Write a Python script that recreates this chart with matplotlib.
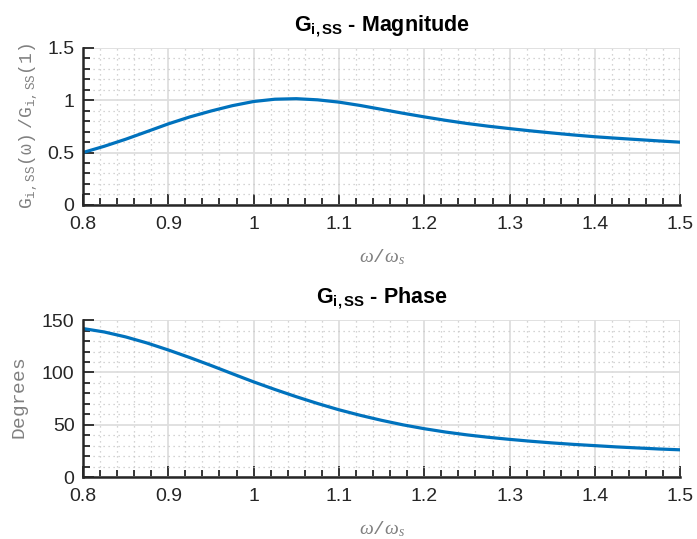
import matplotlib
matplotlib.use("Agg")
import matplotlib.pyplot as plt
from matplotlib.ticker import MultipleLocator

# frequency ratio w/ws
w = [0.800, 0.825, 0.850, 0.875, 0.900, 0.925, 0.950, 0.975, 1.000, 1.025,
     1.050, 1.075, 1.100, 1.125, 1.150, 1.175, 1.200, 1.225, 1.250, 1.275,
     1.300, 1.325, 1.350, 1.375, 1.400, 1.425, 1.450, 1.475, 1.500]
# normalised magnitude
mag = [0.50, 0.56, 0.627, 0.70, 0.774, 0.84, 0.897, 0.948, 0.988, 1.01,
       1.015, 1.004, 0.982, 0.95, 0.913, 0.876, 0.841, 0.808, 0.778, 0.752,
       0.729, 0.707, 0.687, 0.668, 0.651, 0.637, 0.624, 0.611, 0.599]
# phase, degrees
phase = [142, 138.7, 134.0, 128.2, 121.5, 114.3, 106.7, 98.8, 91, 83.7,
         76.8, 70.3, 64.3, 59, 54.2, 49.9, 46.2, 43, 40.3, 38,
         36, 34.2, 32.6, 31.2, 30, 28.8, 27.8, 26.8, 26]

plt.rcParams['font.family'] = ['Liberation Sans', 'DejaVu Sans']
plt.rcParams['mathtext.fontset'] = 'custom'
plt.rcParams['mathtext.rm'] = 'Liberation Mono'
plt.rcParams['mathtext.it'] = 'Liberation Serif:italic'
plt.rcParams['mathtext.bf'] = 'Liberation Sans:bold'

blue = (0, 0.447, 0.741)
dark = (0.15, 0.15, 0.15)
grey = (0.5, 0.5, 0.5)

fig = plt.figure(figsize=(6.97, 5.39), dpi=100)
ax1 = fig.add_axes([0.119, 0.620, 0.857, 0.291])
ax2 = fig.add_axes([0.119, 0.115, 0.857, 0.291])


def style(ax, ymaj, ymin):
    ax.set_xlim(0.8, 1.5)
    ax.xaxis.set_major_locator(MultipleLocator(0.1))
    ax.xaxis.set_minor_locator(MultipleLocator(0.02))
    ax.yaxis.set_major_locator(MultipleLocator(ymaj))
    ax.yaxis.set_minor_locator(MultipleLocator(ymin))
    ax.grid(True, which='major', color=(0.87, 0.87, 0.87), lw=1.3)
    ax.grid(True, which='minor', color=(0.78, 0.78, 0.78), lw=0.9, ls=(0, (1, 3)))
    ax.set_axisbelow(True)
    for s in ['top', 'right']:
        ax.spines[s].set_visible(False)
    for s in ['left', 'bottom']:
        ax.spines[s].set_color(dark)
        ax.spines[s].set_linewidth(1.8)
    ax.tick_params(which='both', direction='in', color=dark, width=1.3,
                   labelsize=14, labelcolor=dark)
    ax.tick_params(which='major', length=8)
    ax.tick_params(which='minor', length=5)
    ax.tick_params(axis='x', pad=8)
    ax.tick_params(axis='y', pad=6)
    ax.xaxis.set_major_formatter(plt.FuncFormatter(lambda v, p: '%g' % round(v, 2)))
    ax.yaxis.set_major_formatter(plt.FuncFormatter(lambda v, p: '%g' % round(v, 2)))


ax1.plot(w, mag, color=blue, lw=2.3)
style(ax1, 0.5, 0.1)
ax1.set_ylim(0, 1.5)
ax1.set_title(r'G$_{\mathbf{i,SS}}$ - Magnitude', fontsize=15.5, fontweight='bold', pad=12)
ax1.set_ylabel(r'$\mathrm{G_{i,SS}(\omega)\ /G_{i,SS}(1)}$', fontsize=13, color=grey, labelpad=6)
ax1.set_xlabel(r'$\omega/\omega_s$', fontsize=14, color=grey, labelpad=10)

ax2.plot(w, phase, color=blue, lw=2.3)
style(ax2, 50, 10)
ax2.set_ylim(0, 150)
ax2.set_title(r'G$_{\mathbf{i,SS}}$ - Phase', fontsize=15.5, fontweight='bold', pad=12)
ax2.set_ylabel(r'$\mathrm{Degrees}$', fontsize=14, color=grey, labelpad=8)
ax2.set_xlabel(r'$\omega/\omega_s$', fontsize=14, color=grey, labelpad=10)

fig.savefig('out.png', dpi=100)
